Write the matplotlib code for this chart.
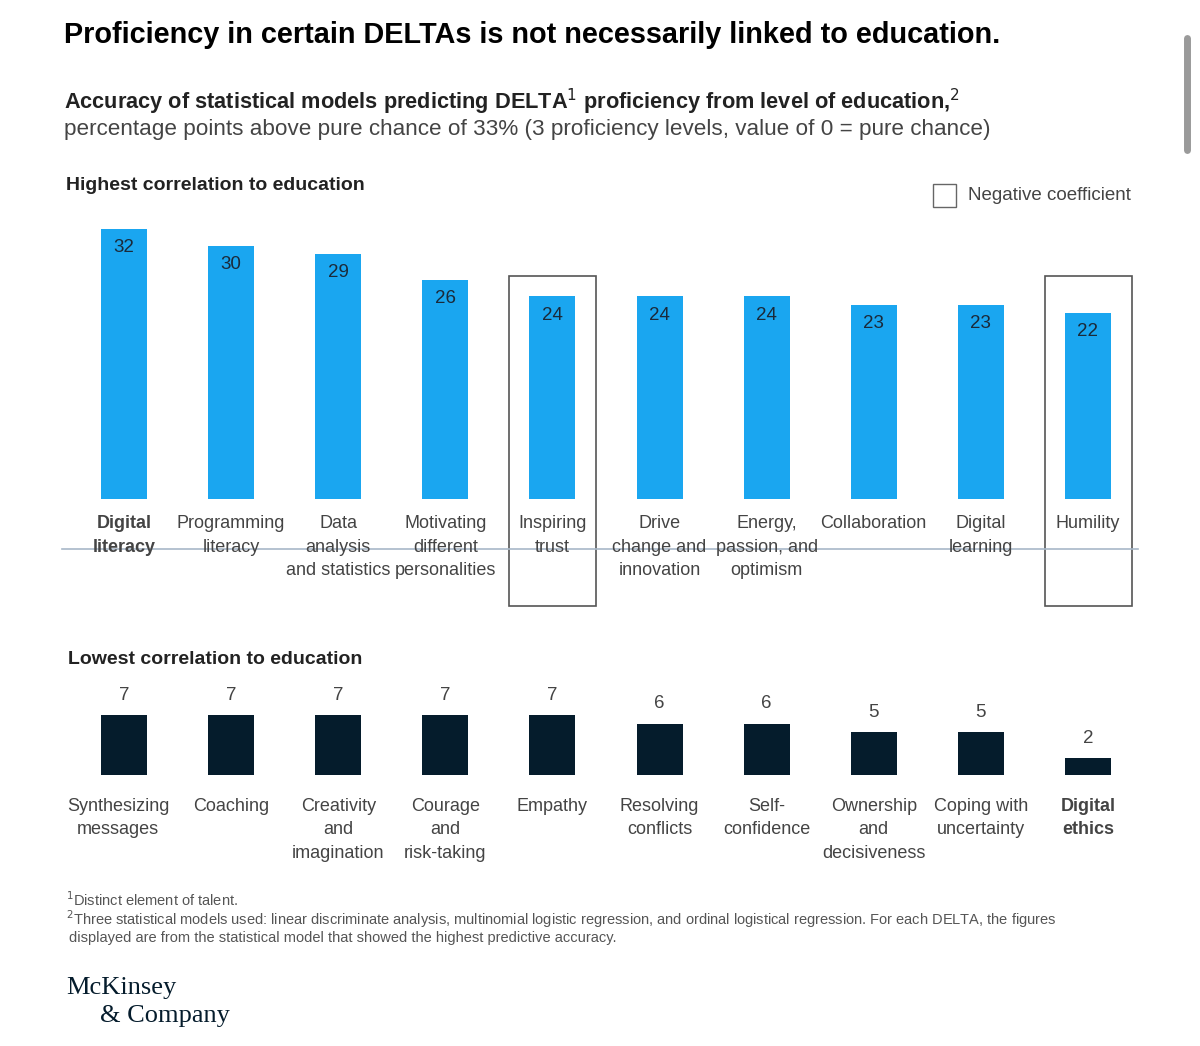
import matplotlib
matplotlib.use("Agg")
from matplotlib import pyplot as plt
from matplotlib.patches import Rectangle

W, H = 1200, 1046

high_labels = ["Digital\nliteracy", "Programming\nliteracy", "Data\nanalysis\nand statistics",
               "Motivating\ndifferent\npersonalities", "Inspiring\ntrust", "Drive\nchange and\ninnovation",
               "Energy,\npassion, and\noptimism", "Collaboration", "Digital\nlearning", "Humility"]
high_values = [32, 30, 29, 26, 24, 24, 24, 23, 23, 22]
high_negative = [False, False, False, False, True, False, False, False, False, True]

low_labels = ["Synthesizing\nmessages", "Coaching", "Creativity\nand\nimagination", "Courage\nand\nrisk-taking",
              "Empathy", "Resolving\nconflicts", "Self-\nconfidence", "Ownership\nand\ndecisiveness",
              "Coping with\nuncertainty", "Digital\nethics"]
low_values = [7, 7, 7, 7, 7, 6, 6, 5, 5, 2]

BLUE = "#1aa6f0"
NAVY = "#051c2c"
TXT = "#222222"
GREY = "#444444"
FONT = "Liberation Sans"

x0, step = 124, 107.1


def fx(p):
    return p / W


def fy(p):
    return 1 - p / H


def px_axes(fig, top, bottom, scale):
    ax = fig.add_axes([0, fy(bottom), 1, (bottom - top) / H])
    ax.set_xlim(-x0 / step, (W - x0) / step)
    ax.set_ylim(0, (bottom - top) / scale)
    ax.axis("off")
    return ax


fig = plt.figure(figsize=(W / 100, H / 100), dpi=100)
plt.rcParams["font.family"] = [FONT, "DejaVu Sans"]

fig.text(fx(64), fy(35), "Proficiency in certain DELTAs is not necessarily linked to education.",
         fontsize=20.8, fontweight="bold", color="black", va="center")
fig.text(fx(64), fy(102), r"Accuracy of statistical models predicting DELTA$^{1}$ proficiency from level of education,$^{2}$",
         fontsize=15.7, fontweight="bold", color=TXT, va="center")
fig.text(fx(64), fy(130), "percentage points above pure chance of 33% (3 proficiency levels, value of 0 = pure chance)",
         fontsize=16.2, color=GREY, va="center")
fig.text(fx(66), fy(186), "Highest correlation to education", fontsize=14, fontweight="bold", color=TXT, va="center")
fig.text(fx(68), fy(659), "Lowest correlation to education", fontsize=14, fontweight="bold", color=TXT, va="center")

# legend
fig.patches.append(Rectangle((fx(933), fy(207)), 23 / W, 23 / H, transform=fig.transFigure,
                             fill=False, edgecolor="#666666", lw=1))
fig.text(fx(968), fy(196), "Negative coefficient", fontsize=13.5, color=GREY, va="center")

# scrollbar
fig.add_artist(plt.Line2D([fx(1187), fx(1187)], [fy(38), fy(150)], color="#9a9a9a", lw=5,
                          solid_capstyle="round", transform=fig.transFigure))

# top bars
ax1 = px_axes(fig, 220, 499, 8.44)
xs = list(range(len(high_values)))
ax1.bar(xs, high_values, width=46 / step, color=BLUE)
for x, v in zip(xs, high_values):
    ax1.text(x, v - 1.2, str(v), ha="center", va="top", fontsize=13.5, color="#1a2a3a")

# separator line
fig.add_artist(plt.Line2D([fx(62), fx(1138)], [fy(549), fy(549)], color="#a8b8c8", lw=1.2,
                          transform=fig.transFigure))

for i, (lab, neg) in enumerate(zip(high_labels, high_negative)):
    cx = x0 + i * step
    bold = "bold" if i == 0 else "normal"
    fig.text(fx(cx), fy(515), lab, ha="center", va="top", fontsize=13, color=GREY,
             fontweight=bold, linespacing=1.5)
    if neg:
        fig.patches.append(Rectangle((fx(cx - 43), fy(606)), 87 / W, 330 / H, transform=fig.transFigure,
                                     fill=False, edgecolor="#555555", lw=1.2))

# bottom bars
ax2 = px_axes(fig, 680, 775, 8.57)
ax2.bar(xs, low_values, width=46 / step, color=NAVY)
for x, v in zip(xs, low_values):
    ax2.text(x, v + 1.3, str(v), ha="center", va="bottom", fontsize=13.5, color=GREY)

for i, lab in enumerate(low_labels):
    cx = x0 + i * step
    bold = "bold" if i == len(low_labels) - 1 else "normal"
    fig.text(fx(cx - 6 if i == 0 else cx), fy(798), lab, ha="center", va="top", fontsize=13,
             color=GREY, fontweight=bold, linespacing=1.5)

# footnotes
fig.text(fx(66), fy(900), r"$^{1}$Distinct element of talent.", fontsize=10.5, color="#555555", va="center")
fig.text(fx(66), fy(919), r"$^{2}$Three statistical models used: linear discriminate analysis, multinomial logistic regression, "
         "and ordinal logistical regression. For each DELTA, the figures", fontsize=10.5, color="#555555", va="center")
fig.text(fx(69), fy(938), "displayed are from the statistical model that showed the highest predictive accuracy.",
         fontsize=10.5, color="#555555", va="center")

# logo
fig.text(fx(66), fy(988), "McKinsey", fontsize=19, family="Liberation Serif", color=NAVY, va="center")
fig.text(fx(100), fy(1016), "& Company", fontsize=19, family="Liberation Serif", color=NAVY, va="center")

fig.savefig("out.png", dpi=100, facecolor="white")
